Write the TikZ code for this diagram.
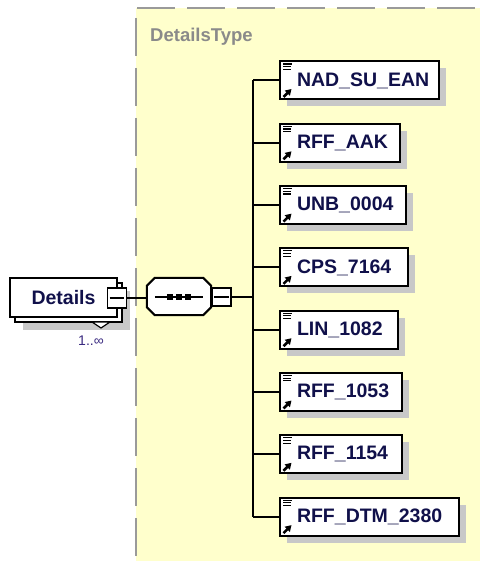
\documentclass[tikz,border=0pt]{standalone}
\usepackage{fontspec}
\setmainfont{Liberation Sans}
\usetikzlibrary{calc,shadows,arrows.meta}
\definecolor{bgyellow}{HTML}{FFFFCC}
\definecolor{shadowgray}{HTML}{C8C8C8}
\definecolor{navy}{HTML}{10104A}
\definecolor{typegray}{HTML}{8A8A8A}
\definecolor{dashgray}{HTML}{9A9A9A}
\definecolor{occurcol}{HTML}{3A2A80}
\newcommand{\elemfont}{\fontsize{19.5}{22}\selectfont\bfseries}
\tikzset{
  elem/.style={draw=black, line width=2pt, fill=white, minimum height=38pt,
    inner xsep=0pt, inner ysep=0pt, anchor=west, align=left, font=\elemfont, text=navy,
    drop shadow={shadow xshift=7pt, shadow yshift=-7pt, fill=shadowgray, opacity=1}},
  detbox/.style={draw=black, line width=2pt, fill=white, minimum width=107pt,
    minimum height=39pt, inner sep=0pt, font=\elemfont, text=navy},
  minusbox/.style={draw=black, line width=1.8pt, fill=white, inner sep=0pt},
  conn/.style={draw=black, line width=2pt},
  dashline/.style={draw=dashgray, line width=2pt, dash pattern=on 38pt off 12pt},
  iconline/.style={draw=black, line width=1.1pt},
  iconarrow/.style={draw=black, line width=2.6pt, -{Triangle[length=6pt,width=7pt]}}
}
\begin{document}
\begin{tikzpicture}[x=1pt,y=-1pt]
\useasboundingbox (0,0) rectangle (480,561);
% yellow type area
\fill[bgyellow] (136,8) rectangle (480,561);
\draw[dashline] (137,8) -- (480,8);
\draw[dashline] (136,18) -- (136,561);
\node[anchor=base west, inner sep=0pt, text=typegray, font=\fontsize{18.5}{21}\selectfont\bfseries] (typelabel) at (150,42) {DetailsType};

% Details element (repeating)
\fill[shadowgray] (23,291) rectangle (130,330);
\node[detbox] (detback) at (68.5,302.5) {};
\draw[fill=white, line width=1.2pt] (92,322) -- (110,322) -- (101,328) -- cycle;
\node[detbox] (details) at (63.5,297.5) {Details};
\node[minusbox, minimum width=19pt, minimum height=20pt] (detminus) at (117,298) {};
\draw[line width=1.6pt] ($(detminus.west)+(3,0)$) -- ($(detminus.east)+(-3,0)$);
\node[inner sep=0pt, text=occurcol, font=\fontsize{14}{16}\selectfont] (occ) at (91,341) {1..∞};

% sequence compositor
\node[minimum width=64pt, minimum height=37pt, inner sep=0pt] (seq) at (179,296.5) {};
\fill[shadowgray, shift={(7,7)}]
  ($(seq.north west)+(8,0)$) -- ($(seq.north east)+(-8,0)$) -- ($(seq.north east)+(0,8)$) --
  ($(seq.south east)+(0,-8)$) -- ($(seq.south east)+(-8,0)$) -- ($(seq.south west)+(8,0)$) --
  ($(seq.south west)+(0,-8)$) -- ($(seq.north west)+(0,8)$) -- cycle;
\draw[fill=white, line width=2pt]
  ($(seq.north west)+(8,0)$) -- ($(seq.north east)+(-8,0)$) -- ($(seq.north east)+(0,8)$) --
  ($(seq.south east)+(0,-8)$) -- ($(seq.south east)+(-8,0)$) -- ($(seq.south west)+(8,0)$) --
  ($(seq.south west)+(0,-8)$) -- ($(seq.north west)+(0,8)$) -- cycle;
\draw[line width=1.6pt] ($(seq.west)+(8,0.5)$) -- ($(seq.east)+(-8,0.5)$);
\foreach \dx in {-9,0,9} \fill[black] ($(seq.center)+(\dx-3,-2.5)$) rectangle +(6,6);
\node[minusbox, minimum width=19pt, minimum height=18pt] (seqminus) at (221.5,297) {};
\draw[line width=1.6pt] ($(seqminus.west)+(3,0)$) -- ($(seqminus.east)+(-3,0)$);

\draw[conn] (detminus.east) -- (seq.west |- detminus.east);

% children
\node[elem, text width=159pt] (c1) at (279,80.5) {\hspace*{17pt}NAD\_SU\_EAN};
\node[elem, text width=120pt] (c2) at (279,142.8) {\hspace*{17pt}RFF\_AAK};
\node[elem, text width=126pt] (c3) at (279,205.1) {\hspace*{17pt}UNB\_0004};
\node[elem, text width=128pt] (c4) at (279,267.4) {\hspace*{17pt}CPS\_7164};
\node[elem, text width=118pt] (c5) at (279,329.7) {\hspace*{17pt}LIN\_1082};
\node[elem, text width=122pt] (c6) at (279,392) {\hspace*{17pt}RFF\_1053};
\node[elem, text width=122pt] (c7) at (279,454.3) {\hspace*{17pt}RFF\_1154};
\node[elem, text width=179pt] (c8) at (279,516.6) {\hspace*{17pt}RFF\_DTM\_2380};

\coordinate (bus) at (253,297);
\draw[conn] (seqminus.east) -- (bus);
\draw[conn] (c1.west -| bus) -- (c8.west -| bus);
\foreach \n in {c1,c2,c3,c4,c5,c6,c7,c8} {
  \draw[conn] (\n.west -| bus) -- (\n.west);
  \draw[iconline] ($(\n.north west)+(4,3.5)$) -- +(9,0);
  \draw[iconline] ($(\n.north west)+(4,6.2)$) -- +(8,0);
  \draw[iconline] ($(\n.north west)+(4,8.9)$) -- +(8,0);
  \draw[iconarrow] ($(\n.south west)+(4.5,-3.5)$) -- +(8,-8);
}
\end{tikzpicture}
\end{document}
